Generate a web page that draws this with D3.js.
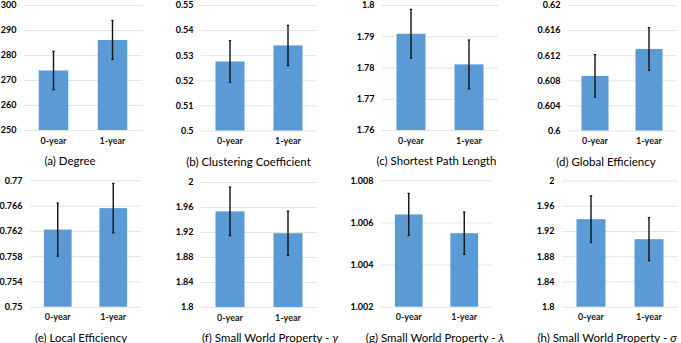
<!DOCTYPE html>
<html>
<head>
<meta charset="utf-8">
<script src="https://cdn.jsdelivr.net/npm/d3@7"></script>
<style>
  body { margin: 0; background: #fff; }
  svg { display: block; }
</style>
</head>
<body>
<div id="chart"></div>
<script>
// Categories shared by every panel
const categories = ["0-year", "1-year"];

// Panel captions (greek symbol kept apart so it can be set in italics)
const titles = ["(a) Degree", "(b) Clustering Coefficient", "(c) Shortest Path Length", "(d) Global Efficiency",
                "(e) Local Efficiency", "(f) Small World Property - ", "(g) Small World Property - ", "(h) Small World Property - "];
const symbols = ["", "", "", "", "", "γ", "λ", "σ"];

// Mean values
const degree     = [273.8, 286.0];
const clustering = [0.5275, 0.5339];
const pathLength = [1.7908, 1.7810];
const globalEff  = [0.6087, 0.6130];
const localEff   = [0.7622, 0.7656];
const gamma      = [1.953, 1.918];
const lambda     = [1.00638, 1.00549];
const sigma      = [1.9387, 1.907];

// Error bar half-lengths
const degreeErr     = [7.7, 7.8];
const clusteringErr = [0.0083, 0.0080];
const pathLengthErr = [0.0078, 0.0078];
const globalEffErr  = [0.0034, 0.0034];
const localEffErr   = [0.0042, 0.0039];
const gammaErr      = [0.039, 0.0355];
const lambdaErr     = [0.0010, 0.0010];
const sigmaErr      = [0.037, 0.034];

// Y tick values for each panel
const degreeTicks     = [250, 260, 270, 280, 290, 300];
const clusteringTicks = [0.5, 0.51, 0.52, 0.53, 0.54, 0.55];
const pathLengthTicks = [1.76, 1.77, 1.78, 1.79, 1.8];
const globalEffTicks  = [0.6, 0.604, 0.608, 0.612, 0.616, 0.62];
const localEffTicks   = [0.75, 0.754, 0.758, 0.762, 0.766, 0.77];
const gammaTicks      = [1.8, 1.84, 1.88, 1.92, 1.96, 2];
const lambdaTicks     = [1.002, 1.004, 1.006, 1.008];
const sigmaTicks      = [1.8, 1.84, 1.88, 1.92, 1.96, 2];

const panels = [
  { values: degree,     err: degreeErr,     ticks: degreeTicks },
  { values: clustering, err: clusteringErr, ticks: clusteringTicks },
  { values: pathLength, err: pathLengthErr, ticks: pathLengthTicks },
  { values: globalEff,  err: globalEffErr,  ticks: globalEffTicks },
  { values: localEff,   err: localEffErr,   ticks: localEffTicks },
  { values: gamma,      err: gammaErr,      ticks: gammaTicks },
  { values: lambda,     err: lambdaErr,     ticks: lambdaTicks },
  { values: sigma,      err: sigmaErr,      ticks: sigmaTicks }
];

// Plot area of each panel (left, right, top, bottom) and caption centre
const layout = [
  { x0: 24,  x1: 142, y0: 5,     y1: 130,   tx: 70 },
  { x0: 201, x1: 317, y0: 5,     y1: 130.5, tx: 248.5 },
  { x0: 382, x1: 498, y0: 5,     y1: 130,   tx: 436.5 },
  { x0: 568, x1: 676, y0: 5,     y1: 130.5, tx: 606 },
  { x0: 30,  x1: 141, y0: 180.3, y1: 306.7, tx: 81 },
  { x0: 201, x1: 317, y0: 182,   y1: 307,   tx: 270 },
  { x0: 381, x1: 492, y0: 180.3, y1: 306.7, tx: 435 },
  { x0: 562, x1: 678, y0: 180.5, y1: 306.7, tx: 607 }
];

const width = 681, height = 343;
const barColor = "#5b9bd5";
const fontFamily = "Lato, 'Open Sans', sans-serif";

const svg = d3.select("#chart").append("svg")
    .attr("width", width)
    .attr("height", height);

panels.forEach((p, i) => {
  const box = layout[i];
  const w = box.x1 - box.x0;
  const h = box.y1 - box.y0;

  const g = svg.append("g").attr("transform", `translate(${box.x0},${box.y0})`);

  const x = d3.scaleBand().domain(categories).range([0, w]).paddingInner(0.5).paddingOuter(0.25);
  const y = d3.scaleLinear().domain(d3.extent(p.ticks)).range([h, 0]);

  // Y axis with gridlines
  const yAxis = g.append("g")
      .call(d3.axisLeft(y).tickValues(p.ticks).tickSize(-w).tickPadding(7.5).tickFormat(d3.format(".4~f")));
  yAxis.select(".domain").remove();
  yAxis.selectAll(".tick line").attr("stroke", "#e4e4e4").attr("stroke-width", 1);
  yAxis.selectAll(".tick text")
      .attr("fill", "#000")
      .style("font-family", fontFamily)
      .style("font-size", "9px")
      .style("font-weight", "bold");

  // Bars
  g.selectAll(".bar")
    .data(categories)
    .join("rect")
      .attr("class", "bar")
      .attr("x", d => x(d))
      .attr("width", x.bandwidth())
      .attr("y", (d, j) => y(p.values[j]))
      .attr("height", (d, j) => h - y(p.values[j]))
      .attr("fill", barColor);

  // Error bars
  const eb = g.selectAll(".err")
    .data(categories)
    .join("g")
      .attr("class", "err")
      .attr("transform", d => `translate(${x(d) + x.bandwidth() / 2},0)`);
  eb.append("line")
      .attr("y1", (d, j) => y(p.values[j] + p.err[j]))
      .attr("y2", (d, j) => y(p.values[j] - p.err[j]))
      .attr("stroke", "#111")
      .attr("stroke-width", 1.4);
  [1, -1].forEach(s => {
    eb.append("line")
        .attr("x1", -1.2).attr("x2", 1.2)
        .attr("y1", (d, j) => y(p.values[j] + s * p.err[j]))
        .attr("y2", (d, j) => y(p.values[j] + s * p.err[j]))
        .attr("stroke", "#111")
        .attr("stroke-width", 1.2);
  });

  // Category labels
  g.append("g")
      .attr("transform", `translate(0,${h})`)
      .call(d3.axisBottom(x).tickSize(0).tickPadding(0))
      .call(a => a.select(".domain").remove())
      .selectAll("text")
      .attr("dy", null)
      .attr("y", 13.5)
      .attr("fill", "#1a1a1a")
      .style("font-family", fontFamily)
      .style("font-size", "9px")
      .style("font-weight", "bold");

  // Caption
  const t = svg.append("text")
      .attr("x", box.tx)
      .attr("y", box.y1 + 35)
      .attr("text-anchor", "middle")
      .attr("fill", "#000")
      .style("font-family", fontFamily)
      .style("font-size", "11.5px")
      .text(titles[i]);
  if (symbols[i]) {
    t.append("tspan").style("font-style", "italic").text(symbols[i]);
  }
});
</script>
</body>
</html>
